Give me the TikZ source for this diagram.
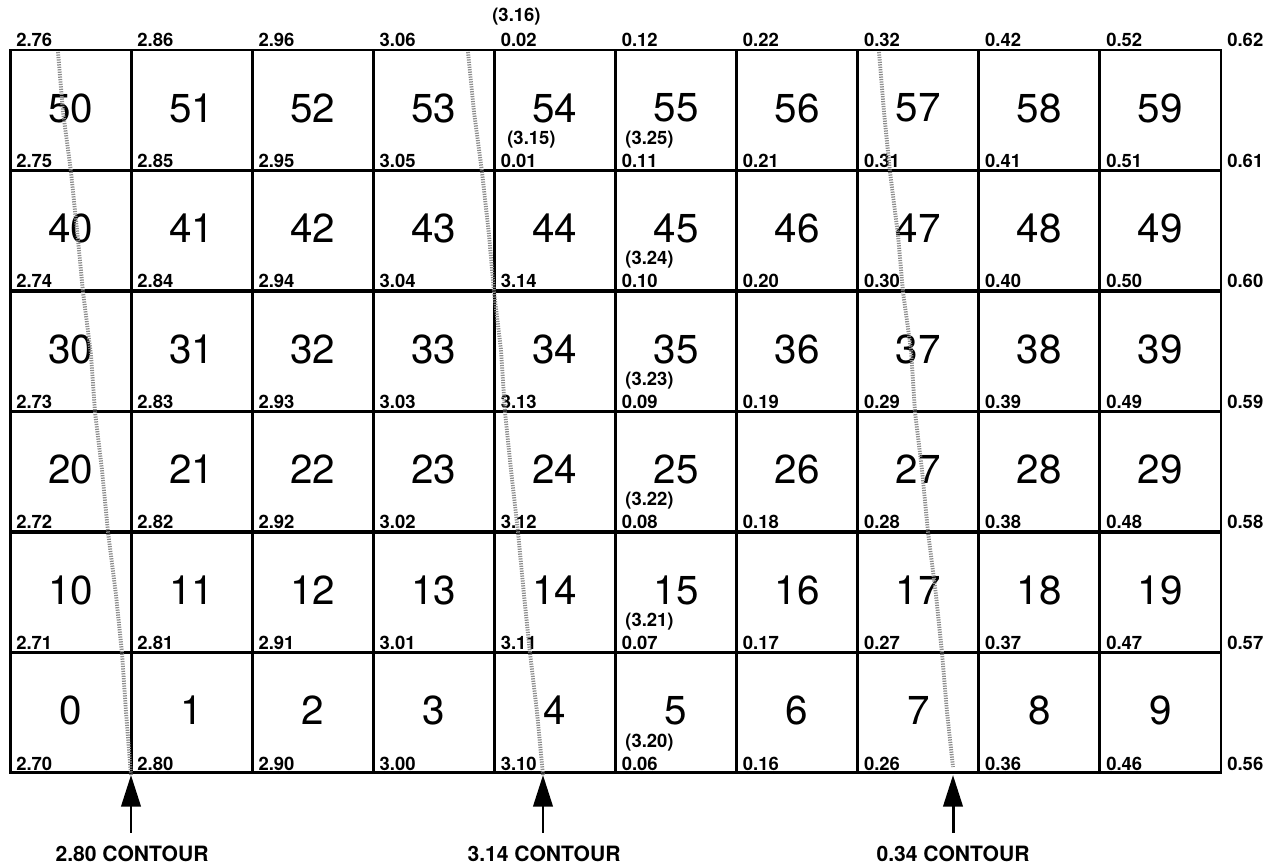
\documentclass[tikz,border=0pt]{standalone}
\usepackage{fontspec}
\setmainfont{TeX Gyre Heros}
\usetikzlibrary{arrows.meta}

\begin{document}
\begin{tikzpicture}[x=0.02cm, y=-0.02cm,
  cellbox/.style={draw, line width=1.7pt, minimum width=2.422cm, minimum height=2.41cm, inner sep=0pt, text depth=0.1cm, font=\fontsize{23}{23}\selectfont},
  val/.style={font=\bfseries\fontsize{10.5}{10.5}\selectfont, inner sep=0pt},
  contour/.style={draw=black!45, line width=2.2pt, dash pattern=on 0.7pt off 0.7pt},
  contourarrow/.style={line width=1.7pt, -{Triangle[length=18pt, width=11pt]}},
  contourlabel/.style={font=\bfseries\fontsize{12}{12}\selectfont, inner sep=2pt}]
\useasboundingbox (0,0) rectangle (1272,864);
\foreach \r in {0,...,5}
  \foreach \c in {0,...,9} {
    \pgfmathtruncatemacro\n{10*\r+\c}
    \node[cellbox] (cell\n) at ({10+121.1*(\c+0.5)},{773-120.5*(\r+0.5)}) {\n};
  }
\foreach \r in {0,...,6}
  \foreach \c in {0,...,10} {
    \pgfmathtruncatemacro\v{270+10*\c+\r}
    \ifnum\v>314 \pgfmathtruncatemacro\v{\v-314}\fi
    \pgfmathtruncatemacro\vi{\v/100}
    \pgfmathtruncatemacro\vf{mod(\v,100)}
    \node[val, anchor=base west] (v\c-\r) at ({16+121.1*\c},{770-120.5*\r}) {\vi.\ifnum\vf<10 0\fi\vf};
  }
\foreach \x/\y/\t [count=\i] in {492/22/3.16, 507/145/3.15, 625/145/3.25, 625/265/3.24,
    625/386/3.23, 625/506/3.22, 625/627/3.21, 625/747/3.20}
  \node[val, anchor=base west] (p\i) at (\x,\y) {(\t)};
\coordinate (end280) at (131,775);
\coordinate (end314) at (543,775);
\coordinate (end034) at (953,775);
\draw[contour] (58,52) -- (63,112) -- (71,172) -- (78,240) -- (83,292) -- (91,355) -- (95,412)
  -- (102,470) -- (108,532) -- (116,595) -- (122,653) -- (126,712) -- (end280);
\draw[contour] (468,52) -- (474,112) -- (482,172) -- (489,235) -- (494,292) -- (501,350) -- (505,412)
  -- (511,470) -- (518,532) -- (524,595) -- (530,653) -- (537,712) -- (end314);
\draw[contour] (879,52) -- (884,112) -- (890,172) -- (898,235) -- (903,292) -- (911,350) -- (915,412)
  -- (922,470) -- (928,532) -- (936,595) -- (942,653) -- (947,712) -- (953,767);
\node[contourlabel, anchor=base] (lab280) at (132,861) {2.80 CONTOUR};
\node[contourlabel, anchor=base] (lab314) at (544,861) {3.14 CONTOUR};
\node[contourlabel, anchor=base] (lab034) at (953,861) {0.34 CONTOUR};
\draw[contourarrow, shorten <=5pt] (lab280.north -| end280) -- (end280);
\draw[contourarrow, shorten <=5pt] (lab314.north -| end314) -- (end314);
\draw[contourarrow, shorten <=5pt] (lab034.north -| end034) -- (end034);
\end{tikzpicture}
\end{document}
